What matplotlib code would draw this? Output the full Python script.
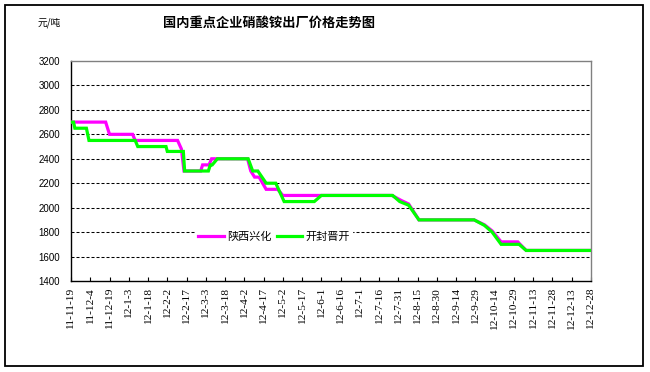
import matplotlib
matplotlib.use("Agg")
import matplotlib.pyplot as plt
from matplotlib.patches import Rectangle

plt.rcParams['font.family'] = ['Noto Sans CJK SC', 'DejaVu Sans']

# ---- data ----
title = "国内重点企业硝酸铵出厂价格走势图"
unit = "元/吨"
series_names = ["陕西兴化", "开封晋开"]

# day offset from 2011-11-19
shx_days = [0, 27, 30, 48, 50, 83, 86, 88, 101, 102.5, 107.5, 109.5, 137.5, 140, 143, 146.5,
            152, 161, 165, 250, 257, 263, 271, 314, 322, 328, 335, 348, 354.5, 405]
shx_vals = [2700, 2700, 2600, 2600, 2550, 2550, 2480, 2300, 2300, 2350, 2350, 2400, 2400, 2300, 2250, 2250,
            2150, 2150, 2100, 2100, 2060, 2030, 1900, 1900, 1860, 1810, 1720, 1720, 1650, 1650]

kf_days = [0, 2, 3, 12, 14, 50, 52, 74, 75, 87.5, 88.5, 107, 108.5, 110, 114, 138, 141.5, 145.5,
           152, 159.5, 166, 189.5, 195, 250.5, 256, 263, 271, 314, 322, 328, 335, 349, 354.5, 405]
kf_vals = [2700, 2700, 2650, 2650, 2550, 2550, 2500, 2500, 2460, 2460, 2300, 2300, 2350, 2350, 2400, 2400, 2300, 2300,
           2200, 2200, 2050, 2050, 2100, 2100, 2050, 2020, 1900, 1900, 1855, 1800, 1700, 1700, 1650, 1650]

tick_days = list(range(0, 406, 15))
tick_labels = ["11-11-19", "11-12-4", "11-12-19", "12-1-3", "12-1-18", "12-2-2", "12-2-17",
               "12-3-3", "12-3-18", "12-4-2", "12-4-17", "12-5-2", "12-5-17", "12-6-1",
               "12-6-16", "12-7-1", "12-7-16", "12-7-31", "12-8-15", "12-8-30", "12-9-14",
               "12-9-29", "12-10-14", "12-10-29", "12-11-13", "12-11-28", "12-12-13", "12-12-28"]
y_ticks = [1400, 1600, 1800, 2000, 2200, 2400, 2600, 2800, 3000, 3200]

# ---- figure ----
fig = plt.figure(figsize=(6.5, 3.72), dpi=100)
fig.patch.set_facecolor('white')
ax = fig.add_axes([71 / 650, 1 - 281 / 372, 520 / 650, 220 / 372])

l1, = ax.plot(shx_days, shx_vals, color='#FF00FF', lw=2.3, solid_joinstyle='miter', zorder=3)
l2, = ax.plot(kf_days, kf_vals, color='#00FF00', lw=2.3, solid_joinstyle='miter', zorder=4)

ax.set_xlim(0, 405)
ax.set_ylim(1400, 3200)
ax.set_yticks(y_ticks)
ax.set_yticklabels([str(v) for v in y_ticks], fontsize=7, family=['Liberation Sans'])
ax.set_xticks(tick_days)
ax.set_xticklabels(tick_labels, rotation=90, fontsize=8.2, family=['Liberation Serif'], va='top')
ax.tick_params(axis='y', length=0, pad=8)
ax.tick_params(axis='x', direction='in', length=3, width=0.8, pad=5)

for v in y_ticks[1:-1]:
    ax.axhline(v, color='black', lw=0.75, linestyle=(0, (2.9, 1.9)), zorder=1)

for s in ['left', 'bottom']:
    ax.spines[s].set_color('black')
    ax.spines[s].set_linewidth(1.0)
for s in ['top', 'right']:
    ax.spines[s].set_color('#808080')
    ax.spines[s].set_linewidth(1.0)

leg = fig.legend([l1, l2], series_names, loc='center', bbox_to_anchor=(274 / 650, 1 - 236.5 / 372),
                 ncol=2, fontsize=8, frameon=True, facecolor='white', edgecolor='white', framealpha=1,
                 handlelength=2.3, handletextpad=0.25, columnspacing=0.5, borderpad=0.2)
leg.set_zorder(10)

fig.text(269 / 650, 1 - 23 / 372, title, ha='center', va='center', fontsize=9.5, fontweight='bold')
fig.text(49 / 650, 1 - 23 / 372, unit, ha='center', va='center', fontsize=7)

fig.patches.append(Rectangle((5 / 650, 1 - 366 / 372), 638 / 650, 361 / 372, transform=fig.transFigure,
                             fill=False, edgecolor='black', lw=1.3))

fig.savefig('out.png', dpi=100, facecolor='white')
